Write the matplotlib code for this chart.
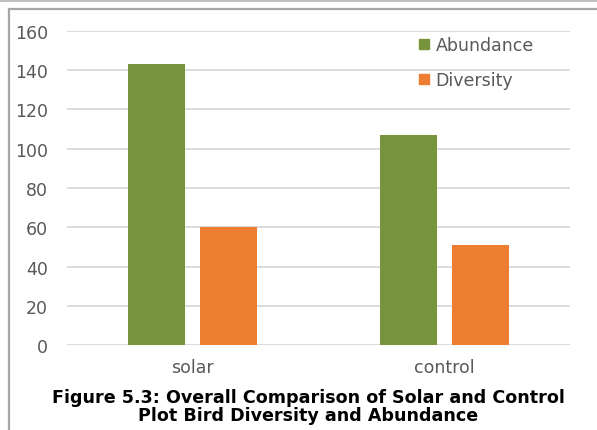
import numpy as np
import matplotlib.pyplot as plt
from matplotlib.lines import Line2D
from matplotlib.patches import Rectangle

# bird survey totals per plot type
plots = ["solar", "control"]
abundance = [143, 107]
diversity = [60, 51]
yticks = [0, 20, 40, 60, 80, 100, 120, 140, 160]

GREEN = "#77933C"
ORANGE = "#ED7D31"
GREY_TXT = "#595959"

plt.rcParams["font.family"] = ["DejaVu Sans"]

fig = plt.figure(figsize=(5.97, 4.31), dpi=100)
ax = fig.add_axes([0.1122, 0.1972, 0.8426, 0.7286])

x = np.arange(len(plots))
w = 0.227
off = 0.143
ax.bar(x - off, abundance, w, color=GREEN, zorder=3, label="Abundance")
ax.bar(x + off, diversity, w, color=ORANGE, zorder=3, label="Diversity")

ax.set_xlim(-0.5, 1.5)
ax.set_ylim(0, 160)
ax.set_yticks(yticks)
ax.set_xticks(x, plots)
ax.grid(axis="y", color="#D9D9D9", linewidth=1.3, zorder=0)
ax.set_axisbelow(True)
for s in ax.spines.values():
    s.set_visible(False)
ax.tick_params(axis="both", length=0, labelsize=12.5, labelcolor=GREY_TXT)
ax.tick_params(axis="y", pad=13.5)
ax.tick_params(axis="x", pad=9)

handles = [Line2D([], [], marker="s", linestyle="", color=GREEN, markersize=7),
           Line2D([], [], marker="s", linestyle="", color=ORANGE, markersize=7)]
leg = ax.legend(handles, ["Abundance", "Diversity"], loc="upper left",
                bbox_to_anchor=(0.664, 1.035), frameon=False, fontsize=12.5,
                labelcolor=GREY_TXT, handlelength=0.8, handletextpad=0.3,
                labelspacing=1.03)

fig.text(0.516, 0.0557, "Figure 5.3: Overall Comparison of Solar and Control\n"
         "Plot Bird Diversity and Abundance", ha="center", va="center",
         fontsize=12.6, fontweight="bold", color="black", linespacing=1.0)

# page frame around the figure
fig.patches.append(Rectangle((9 / 597, -0.1), 1.1, 1 - 10 / 431 + 0.1,
                             transform=fig.transFigure, fill=False,
                             edgecolor="#A6A6A6", linewidth=1.6))
fig.patches.append(Rectangle((0, 1 - 3 / 431), 1, 3 / 431,
                             transform=fig.transFigure, facecolor="#BFBFBF",
                             edgecolor="none"))

fig.savefig("out.png", dpi=100)
